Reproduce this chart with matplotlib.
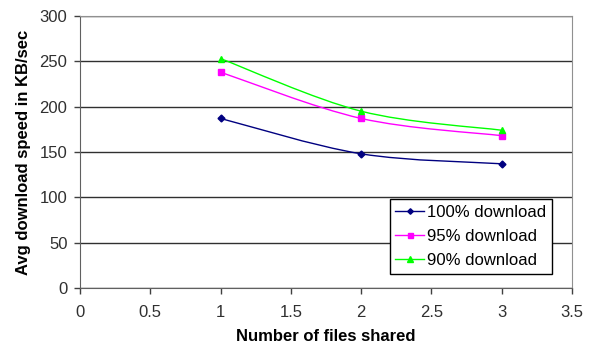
import matplotlib

matplotlib.use("Agg")
import matplotlib.pyplot as plt
from matplotlib.path import Path
from matplotlib.patches import PathPatch
import numpy as np

plt.rcParams["font.family"] = ["Liberation Sans", "DejaVu Sans"]

FILES_SHARED = [1, 2, 3]
SPEED_100 = [187, 148, 137]
SPEED_95 = [238, 187, 168]
SPEED_90 = [253, 195, 174]

SERIES = [
    ("100% download", SPEED_100, "#000080", "D", 3.5),
    ("95% download", SPEED_95, "#FF00FF", "s", 4.5),
    ("90% download", SPEED_90, "#00FF00", "^", 5),
]


def smooth_path(x, y, tension=1 / 6):
    """Excel-style smoothed line as cubic Bezier segments through the points."""
    pts = np.column_stack([x, y]).astype(float)
    verts, codes = [pts[0]], [Path.MOVETO]
    n = len(pts)
    for i in range(n - 1):
        p0 = pts[i - 1] if i > 0 else pts[i]
        p1, p2 = pts[i], pts[i + 1]
        p3 = pts[i + 2] if i + 2 < n else pts[i + 1]
        c1 = p1 + (p2 - p0) * tension
        c2 = p2 - (p3 - p1) * tension
        verts += [c1, c2, p2]
        codes += [Path.CURVE4] * 3
    return Path(verts, codes)


fig = plt.figure(figsize=(5.93, 3.48), dpi=100)
ax = fig.add_axes([80 / 593, 1 - 288 / 348, 492 / 593, 272 / 348])

for label, vals, color, marker, ms in SERIES:
    ax.add_patch(PathPatch(smooth_path(FILES_SHARED, vals), fill=False,
                           edgecolor=color, lw=1.0, zorder=3))
    ax.plot(FILES_SHARED, vals, linestyle="none", color=color, marker=marker,
            markersize=ms, zorder=4)

ax.set_xlim(0, 3.5)
ax.set_ylim(0, 300)
ax.set_xticks(np.arange(0, 3.51, 0.5))
ax.set_xticklabels(["0", "0.5", "1", "1.5", "2", "2.5", "3", "3.5"])
ax.set_yticks(range(0, 301, 50))
ax.yaxis.grid(True, color="#303030", lw=1.0)
ax.set_axisbelow(True)

for side in ("top", "right"):
    ax.spines[side].set_color("#909090")
ax.spines["left"].set_color("#606060")
ax.spines["bottom"].set_color("#606060")
ax.tick_params(axis="both", labelsize=12, colors="#303030", length=4, width=1, pad=5)
ax.tick_params(axis="x", pad=8)
ax.tick_params(axis="both", color="#404040")

ax.set_xlabel("Number of files shared", fontsize=12, fontweight="bold", labelpad=7)
ax.set_ylabel("Avg download speed in KB/sec", fontsize=12, fontweight="bold", labelpad=6)

handles = [plt.Line2D([], [], color=c, marker=m, markersize=s * 0.8, lw=1.0)
           for _, _, c, m, s in SERIES]
leg = ax.legend(handles, [s[0] for s in SERIES], loc="lower right",
                bbox_to_anchor=(552 / 593, 1 - 274 / 348), bbox_transform=fig.transFigure,
                fontsize=12, frameon=True, fancybox=False, framealpha=1,
                edgecolor="black", handlelength=1.7, handletextpad=0.2,
                borderpad=0.35, labelspacing=0.55, borderaxespad=0)
leg.get_frame().set_linewidth(1.0)

fig.savefig("out.png", dpi=100)
